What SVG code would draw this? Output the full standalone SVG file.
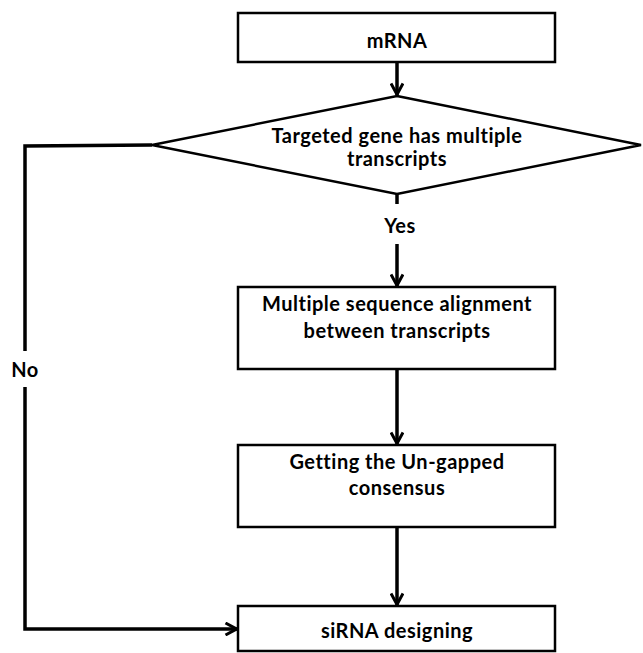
<svg xmlns="http://www.w3.org/2000/svg" width="643" height="653" viewBox="0 0 643 653">
<style>
.box{fill:#fff;stroke:#000;stroke-width:2.5}
.ln{fill:none;stroke:#000;stroke-width:3.5}
text{font-family:"Lato","Open Sans","Liberation Sans",sans-serif;font-weight:bold;font-size:20px;letter-spacing:0.5px;fill:#000;text-anchor:middle;dominant-baseline:central}
</style>
<defs>
<marker id="ah" viewBox="0 0 14 14" refX="13" refY="7" markerWidth="14" markerHeight="14" markerUnits="userSpaceOnUse" orient="auto">
<polyline points="1.5,1 12.5,7 1.5,13" fill="none" stroke="#000" stroke-width="3"/>
</marker>
</defs>
<rect width="643" height="653" fill="#fff"/>
<g id="connectors">
<line class="ln" x1="397" y1="62" x2="397" y2="95" marker-end="url(#ah)"/>
<line class="ln" x1="397" y1="194" x2="397" y2="204"/>
<line class="ln" x1="397" y1="244" x2="397" y2="286" marker-end="url(#ah)"/>
<line class="ln" x1="397" y1="369" x2="397" y2="444" marker-end="url(#ah)"/>
<line class="ln" x1="397" y1="527" x2="397" y2="605" marker-end="url(#ah)"/>
<polyline class="ln" points="152,145 25,146 25,351"/>
<polyline class="ln" points="25,387 25,629 237,629" marker-end="url(#ah)"/>
<text x="400" y="225">Yes</text>
<text x="25" y="369">No</text>
</g>
<g id="mrna">
<rect class="box" x="238" y="13" width="317" height="49"/>
<text x="397" y="40">mRNA</text>
</g>
<g id="decision">
<polygon class="box" points="397,96 641,145 397,194 152,145"/>
<text x="397" y="135">Targeted gene has multiple</text>
<text x="397" y="158">transcripts</text>
</g>
<g id="msa">
<rect class="box" x="238" y="287" width="317" height="82"/>
<text x="397" y="303">Multiple sequence alignment</text>
<text x="397" y="330">between transcripts</text>
</g>
<g id="consensus">
<rect class="box" x="238" y="445" width="317" height="82"/>
<text x="397" y="461">Getting the Un-gapped</text>
<text x="397" y="487">consensus</text>
</g>
<g id="sirna">
<rect class="box" x="238" y="606" width="317" height="45"/>
<text x="397" y="630">siRNA designing</text>
</g>
</svg>
